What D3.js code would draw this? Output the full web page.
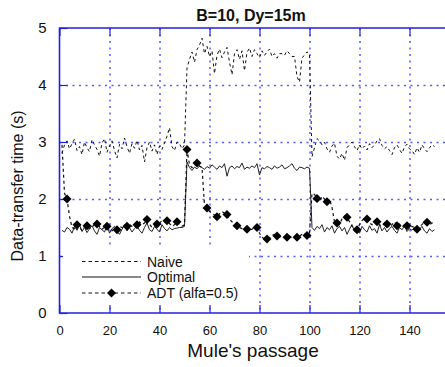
<!DOCTYPE html>
<html>
<head>
<meta charset="utf-8">
<script src="https://cdn.jsdelivr.net/npm/d3@7"></script>
<style>
  body { margin: 0; background: #fff; }
  svg { display: block; font-family: "Liberation Sans", Arial, sans-serif; }
</style>
</head>
<body>
<div id="chart-div"></div>
<script>
// chart size and plot box
const width = 445
const height = 367
const margin = {left: 59.5, top: 28, bottom: 313}

// data (one value per mule passage, 1..150)
const naive = [
  2.80, 2.95, 3.02, 2.88, 2.97, 3.05, 2.85, 2.92, 2.78, 3.00,
  2.90, 2.83, 3.04, 2.95, 2.87, 2.75, 2.98, 3.06, 2.82, 2.93,
  3.02, 2.85, 2.72, 2.96, 2.88, 3.07, 2.92, 2.80, 2.97, 2.89,
  3.03, 2.86, 2.94, 2.65, 2.90, 3.00, 2.84, 2.95, 2.78, 2.93,
  2.87, 2.98, 3.10, 3.25, 2.92, 2.85, 3.00, 2.97, 2.88, 2.95,
  4.30, 4.45, 4.58, 4.40, 4.62, 4.70, 4.82, 4.55, 4.68, 4.50,
  4.60, 4.20, 4.52, 4.63, 4.48, 4.58, 4.66, 4.40, 4.18, 4.55,
  4.62, 4.45, 4.60, 4.25, 4.57, 4.65, 4.50, 4.62, 4.55, 4.48,
  4.60, 4.52, 4.58, 4.63, 4.50, 4.55, 4.47, 4.55, 4.55, 4.52,
  4.60, 4.55, 4.50, 4.50, 4.15, 4.05, 4.48, 4.52, 4.58, 4.55,
  2.74, 2.90, 3.06, 3.02, 2.95, 3.00, 2.88, 2.82, 2.93, 2.98,
  2.75, 2.70, 2.80, 2.68, 2.90, 2.95, 3.00, 2.92, 2.85, 2.95,
  2.88, 2.93, 2.86, 2.97, 2.90, 2.95, 3.02, 3.06, 2.94, 2.88,
  2.92, 2.85, 2.78, 2.90, 2.95, 2.87, 2.80, 2.92, 2.96, 2.88,
  2.85, 2.78, 2.90, 2.82, 2.95, 2.88, 2.83, 2.90, 2.95, 2.92
]

const optimal = [
  1.45, 1.42, 1.50, 1.47, 1.40, 1.52, 1.45, 1.55, 1.43, 1.50,
  1.41, 1.48, 1.53, 1.44, 1.38, 1.50, 1.46, 1.42, 1.54, 1.40,
  1.48, 1.52, 1.43, 1.38, 1.47, 1.55, 1.44, 1.50, 1.42, 1.48,
  1.53, 1.45, 1.40, 1.50, 1.58, 1.46, 1.43, 1.52, 1.47, 1.42,
  1.55, 1.48, 1.44, 1.50, 1.46, 1.48, 1.49, 1.50, 1.50, 1.52,
  2.65, 2.55, 2.50, 2.56, 2.53, 2.58, 2.55, 2.52, 2.57, 2.54,
  2.60, 2.56, 2.52, 2.58, 2.55, 2.62, 2.40, 2.55, 2.58, 2.53,
  2.57, 2.55, 2.63, 2.52, 2.56, 2.54, 2.58, 2.55, 2.62, 2.42,
  2.55, 2.53, 2.57, 2.55, 2.52, 2.58, 2.54, 2.56, 2.60, 2.53,
  2.55, 2.58, 2.62, 2.54, 2.50, 2.56, 2.55, 2.53, 2.56, 2.54,
  1.50, 1.45, 1.52, 1.48, 1.55, 1.42, 1.50, 1.46, 1.53, 1.40,
  1.48, 1.52, 1.44, 1.50, 1.38, 1.47, 1.55, 1.43, 1.49, 1.40,
  1.52, 1.46, 1.42, 1.53, 1.45, 1.48, 1.40, 1.55, 1.44, 1.50,
  1.42, 1.48, 1.52, 1.45, 1.40, 1.50, 1.46, 1.53, 1.43, 1.48,
  1.45, 1.50, 1.42, 1.47, 1.52, 1.44, 1.40, 1.48, 1.43, 1.46
]

const adt = [
  2.95, 2.10, 2.00, 1.70, 1.50, 1.48, 1.55, 1.50, 1.45, 1.52,
  1.53, 1.48, 1.50, 1.55, 1.56, 1.52, 1.47, 1.50, 1.52, 1.49,
  1.44, 1.48, 1.46, 1.52, 1.50, 1.47, 1.52, 1.55, 1.52, 1.50,
  1.55, 1.60, 1.55, 1.58, 1.64, 1.56, 1.50, 1.53, 1.56, 1.58,
  1.62, 1.60, 1.62, 1.57, 1.52, 1.55, 1.60, 1.55, 1.52, 1.55,
  2.87, 2.60, 2.55, 2.58, 2.63, 2.58, 2.55, 1.90, 1.84, 1.78,
  1.75, 1.72, 1.69, 1.74, 1.78, 1.75, 1.73, 1.65, 1.60, 1.56,
  1.53, 1.50, 1.48, 1.46, 1.47, 1.45, 1.47, 1.50, 1.50, 1.40,
  1.33, 1.30, 1.30, 1.32, 1.36, 1.38, 1.35, 1.33, 1.34, 1.32,
  1.33, 1.35, 1.32, 1.34, 1.33, 1.35, 1.38, 1.40, 1.36, 1.40,
  2.10, 2.08, 2.01, 1.95, 2.05, 2.00, 1.95, 2.00, 1.85, 1.60,
  1.58, 1.55, 1.65, 1.70, 1.68, 1.60, 1.52, 1.48, 1.46, 1.55,
  1.62, 1.66, 1.65, 1.58, 1.55, 1.62, 1.60, 1.55, 1.52, 1.58,
  1.56, 1.50, 1.55, 1.60, 1.53, 1.56, 1.50, 1.55, 1.53, 1.48,
  1.52, 1.50, 1.47, 1.52, 1.55, 1.60, 1.59, 1.55, 1.58, 1.56
]

// passages where the ADT curve carries a diamond
const adtMarkers = [3, 7, 11, 15, 19, 23, 27, 31, 35, 39, 43, 47, 51, 55, 59, 63, 67, 71, 75,
  79, 83, 87, 91, 95, 99, 103, 107, 111, 115, 119, 123, 127, 131, 135, 139, 143, 147]

const xTicks = [0, 20, 40, 60, 80, 100, 120, 140]
const yTicks = [0, 1, 2, 3, 4, 5]

const legendItems = ["Naive", "Optimal", "ADT (alfa=0.5)"]

const svg = d3.select("#chart-div")
  .append("svg")
  .attr("width", width)
  .attr("height", height)

// scales (plot runs off the right edge of the picture)
const x = d3.scaleLinear().domain([0, 160]).range([margin.left, margin.left + 400])
const y = d3.scaleLinear().domain([0, 5]).range([margin.bottom, margin.top])

const blue = "#2222dd"
const gridBlue = "#5a5aff"

// dotted grid
const grid = svg.append("g")
grid.selectAll("line.vgrid")
  .data(xTicks.filter(d => d > 0))
  .join("line")
    .attr("class", "vgrid")
    .attr("x1", d => x(d) + 0.5).attr("x2", d => x(d) + 0.5)
    .attr("y1", y(5)).attr("y2", y(0))
    .attr("stroke", gridBlue)
    .attr("stroke-width", 1.5)
    .attr("stroke-dasharray", "2,4.5")
grid.selectAll("line.hgrid")
  .data(yTicks.filter(d => d > 0 && d < 5))
  .join("line")
    .attr("class", "hgrid")
    .attr("x1", x(0)).attr("x2", width)
    .attr("y1", d => y(d) + 0.5).attr("y2", d => y(d) + 0.5)
    .attr("stroke", gridBlue)
    .attr("stroke-width", 1.5)
    .attr("stroke-dasharray", "2,4.5")

// frame
svg.append("path")
  .attr("d", `M${width},${y(5)}H${x(0)}V${y(0)}H${width}`)
  .attr("fill", "none")
  .attr("stroke", blue)
  .attr("stroke-width", 1.6)

// axes with inward ticks
svg.append("g")
  .attr("transform", `translate(0,${y(0)})`)
  .call(d3.axisBottom(x).tickValues(xTicks).tickSize(-8).tickPadding(13).tickFormat(d3.format("d")))
  .call(g => g.select(".domain").remove())
  .call(g => g.selectAll(".tick line").attr("stroke", blue).attr("stroke-width", 1.2))
  .call(g => g.selectAll(".tick text").attr("fill", "#111").style("font-size", "13px"))

svg.append("g")
  .attr("transform", `translate(0,${y(5)})`)
  .call(d3.axisTop(x).tickValues(xTicks).tickSize(-8).tickFormat(""))
  .call(g => g.select(".domain").remove())
  .call(g => g.selectAll(".tick line").attr("stroke", blue).attr("stroke-width", 1.2))

svg.append("g")
  .attr("transform", `translate(${x(0)},0)`)
  .call(d3.axisLeft(y).tickValues(yTicks).tickSize(-8).tickPadding(13).tickFormat(d3.format("d")))
  .call(g => g.select(".domain").remove())
  .call(g => g.selectAll(".tick line").attr("stroke", blue).attr("stroke-width", 1.2))
  .call(g => g.selectAll(".tick text").attr("fill", "#111").style("font-size", "15px"))

// series lines
const line = d3.line()
  .x((d, i) => x(i + 1))
  .y(d => y(d))

svg.append("path")
  .datum(naive)
  .attr("d", line)
  .attr("fill", "none")
  .attr("stroke", "#111")
  .attr("stroke-width", 1)
  .attr("stroke-dasharray", "3,3")

svg.append("path")
  .datum(optimal)
  .attr("d", line)
  .attr("fill", "none")
  .attr("stroke", "#222")
  .attr("stroke-width", 1)

svg.append("path")
  .datum(adt)
  .attr("d", line)
  .attr("fill", "none")
  .attr("stroke", "#111")
  .attr("stroke-width", 1.2)
  .attr("stroke-dasharray", "3,3")

const diamond = "M0,-4.5L4.5,0L0,4.5L-4.5,0Z"
svg.append("g")
  .selectAll("path")
  .data(adtMarkers)
  .join("path")
    .attr("d", diamond)
    .attr("transform", d => `translate(${x(d)},${y(adt[d - 1])})`)
    .attr("fill", "#000")

// legend on a white box
const legend = svg.append("g")
legend.append("rect")
  .attr("x", 63).attr("y", 247)
  .attr("width", 186).attr("height", 58)
  .attr("fill", "#fff")

const legendY = [261.5, 277, 293]
legend.selectAll("line")
  .data(legendItems)
  .join("line")
    .attr("x1", 82).attr("x2", 141)
    .attr("y1", (d, i) => legendY[i]).attr("y2", (d, i) => legendY[i])
    .attr("stroke", "#111")
    .attr("stroke-width", (d, i) => i == 2 ? 1.2 : 1)
    .attr("stroke-dasharray", (d, i) => i == 1 ? null : "3.5,3")
legend.append("path")
  .attr("d", diamond)
  .attr("transform", `translate(111.5,${legendY[2]})`)
  .attr("fill", "#000")
legend.selectAll("text")
  .data(legendItems)
  .join("text")
    .attr("x", 147)
    .attr("y", (d, i) => legendY[i] + 5)
    .style("font-size", "14px")
    .attr("fill", "#111")
    .text(d => d)

// titles
svg.append("text")
  .attr("x", 251).attr("y", 21)
  .attr("text-anchor", "middle")
  .style("font-size", "16px")
  .style("font-weight", "bold")
  .attr("fill", "#111")
  .text("B=10, Dy=15m")

svg.append("text")
  .attr("x", 253).attr("y", 357)
  .attr("text-anchor", "middle")
  .style("font-size", "19px")
  .attr("fill", "#111")
  .text("Mule's passage")

svg.append("text")
  .attr("transform", "translate(23,186) rotate(-90)")
  .attr("text-anchor", "middle")
  .style("font-size", "16px")
  .attr("fill", "#111")
  .text("Data-transfer time (s)")
</script>
</body>
</html>
